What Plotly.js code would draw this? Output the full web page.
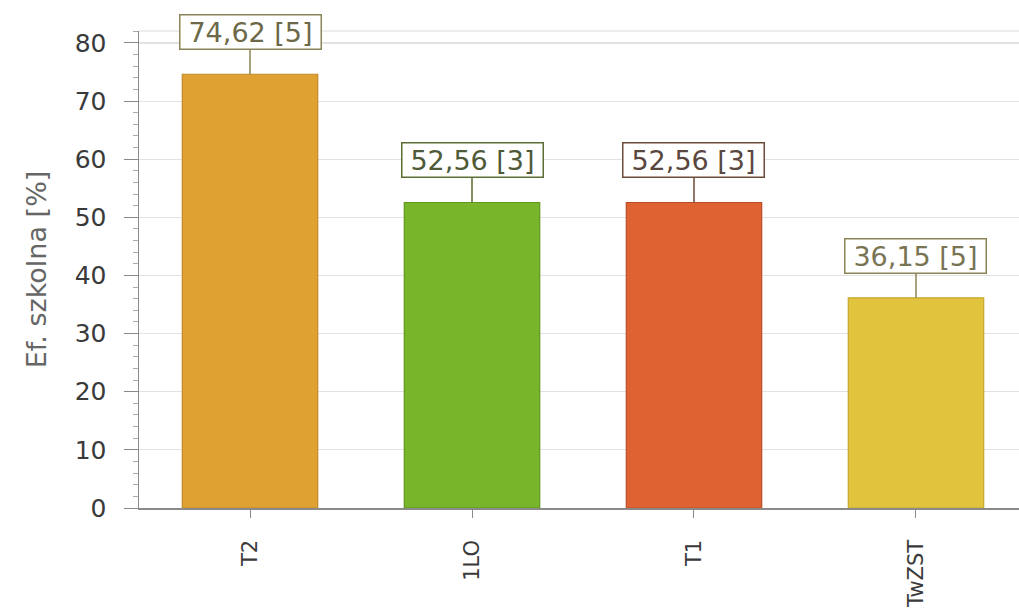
<!DOCTYPE html>
<html>
<head>
<meta charset="utf-8">
<script src="https://cdn.plot.ly/plotly-3.0.1.min.js"></script>
<style>html,body{margin:0;padding:0;background:#fff;}#chart{width:1019px;height:614px;}</style>
</head>
<body>
<div id="chart"></div>
<script>
const categories = ["T2", "1LO", "T1", "TwZST"];
const values = [74.62, 52.56, 52.56, 36.15];
const counts = [5, 3, 3, 5];
const barColors = ["#dfa232", "#79b52a", "#df6233", "#e1c33d"];
const barEdges = ["#c08a28", "#5e981c", "#b94e28", "#c4a830"];
const boxBorders = ["#8a8456", "#5e6e32", "#6e4c3a", "#8a8456"];
const boxTexts = ["#6c6848", "#4e5a38", "#5a4840", "#787454"];

const fmt = v => v.toFixed(2).replace(".", ",");

const trace = {
  type: "bar",
  x: categories,
  y: values,
  width: 0.61,
  marker: { color: barColors, line: { color: barEdges, width: 1.2 } },
  hoverinfo: "skip"
};

const annotations = categories.map((c, i) => ({
  x: c, y: values[i], xref: "x", yref: "y",
  text: fmt(values[i]) + " [" + counts[i] + "]",
  showarrow: true, arrowhead: 0, arrowwidth: 1.5, arrowcolor: boxBorders[i],
  ax: 0, ay: -42, standoff: 0,
  width: 138, height: 31,
  bordercolor: boxBorders[i], borderwidth: 1.5, borderpad: 1,
  bgcolor: "#ffffff",
  font: { family: "DejaVu Sans", size: 27, color: boxTexts[i] }
}));

const layout = {
  width: 1019, height: 614,
  margin: { l: 139, r: 0, t: 31, b: 106 },
  paper_bgcolor: "#ffffff", plot_bgcolor: "#ffffff",
  showlegend: false,
  xaxis: {
    type: "category",
    range: [-0.5, 3.464],
    showgrid: false,
    showline: true, linecolor: "#8a8a8a", linewidth: 1.5,
    ticks: "outside", ticklen: 8, tickcolor: "#8a8a8a",
    tickangle: -90,
    ticklabelstandoff: 14,
    tickfont: { family: "DejaVu Sans", size: 21, color: "#3a3a3a" },
    zeroline: false, fixedrange: true
  },
  yaxis: {
    range: [0, 82.06],
    dtick: 10, tick0: 0,
    showgrid: true, gridcolor: "#e2e2e2", gridwidth: 1.2,
    showline: true, linecolor: "#8a8a8a", linewidth: 1.5,
    ticks: "outside", ticklen: 14, tickcolor: "#8a8a8a",
    ticklabelstandoff: 12,
    minor: { dtick: 2, ticks: "outside", ticklen: 5, tickcolor: "#aaaaaa", showgrid: false },
    tickfont: { family: "DejaVu Sans", size: 25, color: "#3a3a3a" },
    title: { text: "Ef. szkolna [%]", font: { family: "DejaVu Sans", size: 27, color: "#666666" }, standoff: 20 },
    zeroline: false, fixedrange: true
  },
  shapes: [
    { type: "line", xref: "paper", yref: "paper", x0: 0, x1: 1, y0: 1, y1: 1,
      line: { color: "#dcdcdc", width: 1.2 } }
  ],
  annotations: annotations
};

Plotly.newPlot("chart", [trace], layout, { staticPlot: true, displayModeBar: false });
</script>
</body>
</html>
